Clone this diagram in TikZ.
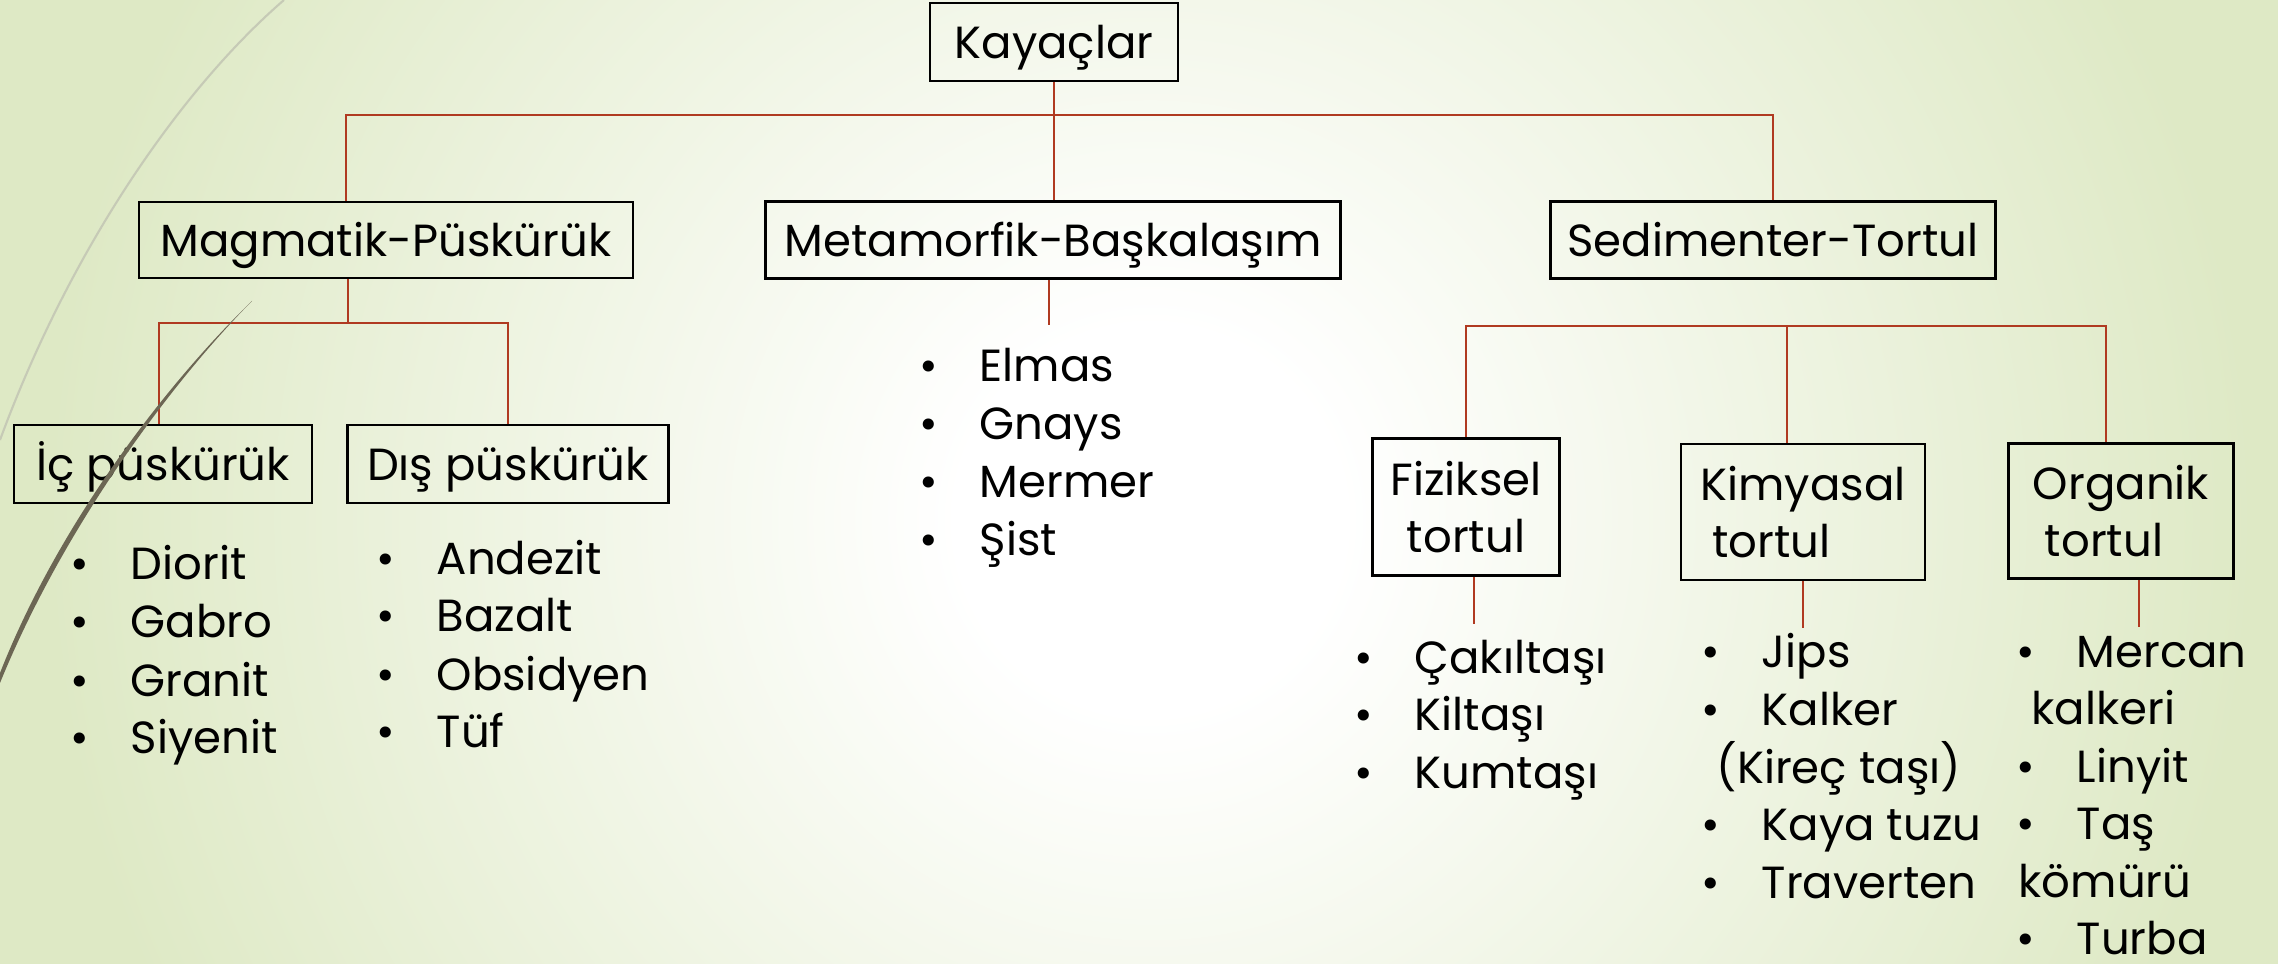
\documentclass[tikz,border=0pt]{standalone}
\usepackage{fontspec}
\setmainfont{Poppins}
\usetikzlibrary{calc}

\definecolor{bggreen}{RGB}{222,233,197}
\definecolor{linkred}{RGB}{176,58,33}
\definecolor{wispgray}{RGB}{198,202,182}
\definecolor{wispdark}{RGB}{108,102,84}
\pgfdeclareradialshading{slidebg}{\pgfpointorigin}{color(0bp)=(white); color(4bp)=(white); color(23bp)=(bggreen); color(50bp)=(bggreen)}

\newcommand{\blt}{\llap{\makebox[0.6cm][l]{\textbullet}}}

\tikzset{
  box/.style={draw, line width=0.7pt, inner sep=0pt, text height=0.32cm, text depth=0pt,
    font=\fontsize{12.8}{16.2}\selectfont},
  tallbox/.style={draw, line width=0.7pt, inner sep=0pt, font=\fontsize{12.8}{16.2}\selectfont},
  link/.style={linkred, line width=0.6pt},
  item/.style={anchor=base west, inner sep=0pt, font=\fontsize{12.8}{16.2}\selectfont},
}

\begin{document}
\begin{tikzpicture}[x=0.01cm, y=-0.01cm]

    \useasboundingbox (0,0) rectangle (2278,964);
    \begin{scope}
      \clip (0,0) rectangle (2278,964);
      \shade[shading=slidebg] (-50,-680) rectangle (2350,1720);
    \end{scope}

    % boxes
    \node (kay) [box, minimum width=2.48cm, minimum height=0.78cm] at (1054,42) {Kayaçlar};
    \node (mag) [box, minimum width=4.94cm, minimum height=0.76cm] at (386,240) {Magmatik-Püskürük};
    \node (met) [box, minimum width=5.75cm, minimum height=0.77cm] at (1053,240) {Metamorfik-Başkalaşım};
    \node (sed) [box, minimum width=4.45cm, minimum height=0.77cm] at (1773,240) {Sedimenter-Tortul};
    \node (ic) [box, minimum width=2.98cm, minimum height=0.78cm] at (163,464) {İç püskürük};
    \node (dis) [box, minimum width=3.21cm, minimum height=0.78cm] at (508,464) {Dış püskürük};
    \node (fiz) [tallbox, align=center, minimum width=1.87cm, minimum height=1.37cm] at (1466,507) {Fiziksel\\tortul};
    \node (kim) [tallbox, align=left, minimum width=2.44cm, minimum height=1.36cm] at (1803,512) {Kimyasal\\~tortul};
    \node (org) [tallbox, align=left, minimum width=2.25cm, minimum height=1.35cm] at (2121,511) {Organik\\~tortul};

    % connectors
    \draw[link] (kay.south) -- (kay.south |- 0,115) coordinate (rootbar);
    \draw[link] (mag.north -| 346,0) |- (rootbar) -| (sed.north);
    \draw[link] (rootbar) -- (rootbar |- met.north);
    \draw[link] (mag.south -| 348,0) -- (348,323) coordinate (magbar);
    \draw[link] (ic.north -| 159,0) |- (magbar) -| (dis.north);
    \draw[link] (met.south -| 1049,0) -- ++(0,45);
    \coordinate (sedbar) at (1787,326);
    \draw[link] (fiz.north) |- (sedbar) -| (org.north -| 2106,0);
    \draw[link] (sedbar) -- (kim.north -| sedbar);
    \foreach \n/\x in {fiz/1474, kim/1803, org/2139}
      \draw[link] (\n.south -| \x,0) -- ++(0,47);

    % lists
    \foreach \t [count=\i from 0] in {Diorit,Gabro,Granit,Siyenit}
      \node[item] (ic\i) at (130,580+58*\i) {\blt\t};
    \foreach \t [count=\i from 0] in {Andezit,Bazalt,Obsidyen,Tüf}
      \node[item] (dis\i) at (436,574+58*\i) {\blt\t};
    \foreach \t [count=\i from 0] in {Elmas,Gnays,Mermer,Şist}
      \node[item] (met\i) at (979,382+58*\i) {\blt\t};
    \foreach \t [count=\i from 0] in {Çakıltaşı,Kiltaşı,Kumtaşı}
      \node[item] (fiz\i) at (1414,673+57.5*\i) {\blt\t};
    \foreach \x/\t [count=\i from 0] in {1761/\blt Jips, 1761/\blt Kalker, 1716/{(Kireç taşı)}, 1761/\blt Kaya tuzu, 1761/\blt Traverten}
      \node[item] (kim\i) at (\x,668+57.5*\i) {\t};
    \foreach \x/\t [count=\i from 0] in {2076/\blt Mercan, 2031/kalkeri, 2076/\blt Linyit, 2076/\blt Taş, 2018/kömürü, 2076/\blt Turba}
      \node[item] (org\i) at (\x,667+57.5*\i) {\t};

    % wisps
    \draw[wispgray, line width=0.6pt] (284,0) .. controls (180,90) and (70,250) .. (0,440);
    \fill[wispdark] (252,301) .. controls (170,380) and (60,520) .. (0,673)
      -- (0,683) .. controls (64,526) and (172,382) .. (252,301) -- cycle;

\end{tikzpicture}
\end{document}
